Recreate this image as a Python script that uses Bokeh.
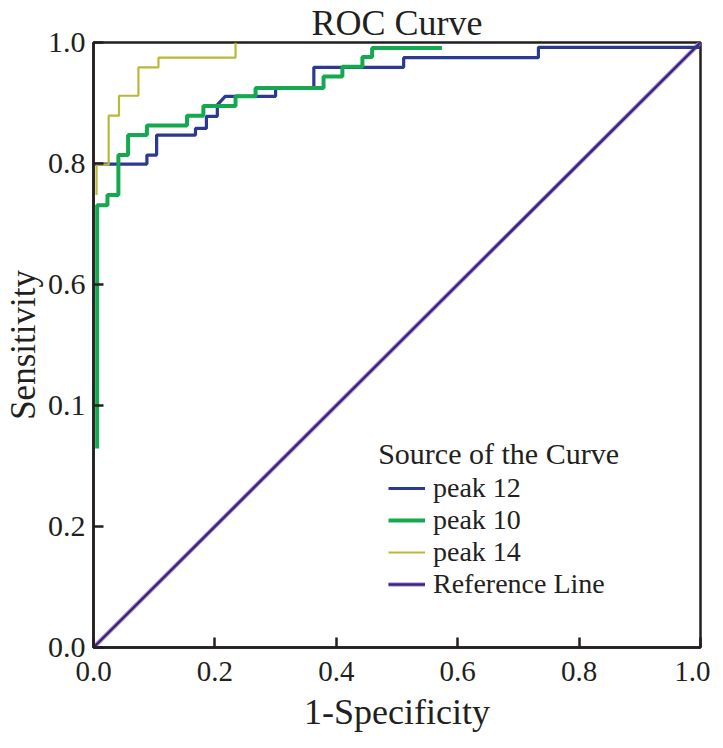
from bokeh.plotting import figure
from bokeh.models import (Range1d, FixedTicker, Legend, LegendItem, Label)
from bokeh.embed import file_html
from bokeh.resources import INLINE

# ---- data ----
peak12_x = [0.0, 0.088, 0.088, 0.104, 0.104, 0.168, 0.168, 0.186, 0.186, 0.204, 0.204,
            0.217, 0.300, 0.300, 0.363, 0.363, 0.511, 0.511, 0.733, 0.733, 1.0]
peak12_y = [0.799, 0.799, 0.814, 0.814, 0.847, 0.847, 0.858, 0.858, 0.878, 0.878, 0.897,
            0.911, 0.911, 0.924, 0.924, 0.959, 0.959, 0.975, 0.975, 0.992, 0.992]

peak10_x = [0.006, 0.006, 0.023, 0.023, 0.041, 0.041, 0.057, 0.057, 0.088, 0.088,
            0.154, 0.154, 0.181, 0.181, 0.234, 0.234, 0.267, 0.267, 0.379, 0.379,
            0.410, 0.410, 0.443, 0.443, 0.459, 0.459, 0.574]
peak10_y = [0.329, 0.731, 0.731, 0.748, 0.748, 0.814, 0.814, 0.847, 0.847, 0.863,
            0.863, 0.879, 0.879, 0.895, 0.895, 0.911, 0.911, 0.925, 0.925, 0.944,
            0.944, 0.960, 0.960, 0.976, 0.976, 0.991, 0.991]

peak14_x = [0.005, 0.005, 0.025, 0.025, 0.042, 0.042, 0.074, 0.074, 0.107, 0.107, 0.234, 0.234]
peak14_y = [0.748, 0.798, 0.798, 0.879, 0.879, 0.912, 0.912, 0.959, 0.959, 0.975, 0.975, 1.0]

ref_x = [0.0, 1.0]
ref_y = [0.0, 1.0]

tick_values = [0.0, 0.2, 0.4, 0.6, 0.8, 1.0]
x_tick_labels = ["0.0", "0.2", "0.4", "0.6", "0.8", "1.0"]
y_tick_labels = ["0.0", "0.2", "0.1", "0.6", "0.8", "1.0"]

series_names = ["peak 12", "peak 10", "peak 14", "Reference Line"]

FONT = "Liberation Serif"
INK = "#231f20"

p = figure(frame_width=607, frame_height=605,
           min_border_left=92, min_border_right=10,
           min_border_top=36, min_border_bottom=95,
           x_range=Range1d(0, 1), y_range=Range1d(0, 1),
           output_backend="svg", toolbar_location=None,
           title="ROC Curve")

p.title.align = "center"
p.title.text_font = FONT
p.title.text_font_size = "36px"
p.title.text_font_style = "normal"
p.title.text_color = INK
p.title.standoff = 0

p.grid.visible = False
p.outline_line_color = INK
p.outline_line_width = 2.5
p.background_fill_color = "white"
p.border_fill_color = "white"

for ax, labels in ((p.xaxis[0], x_tick_labels), (p.yaxis[0], y_tick_labels)):
    ax.ticker = FixedTicker(ticks=tick_values)
    ax.major_label_overrides = {v: t for v, t in zip(tick_values, labels)}
    ax.major_tick_in = 10
    ax.major_tick_out = 0
    ax.minor_tick_line_color = None
    ax.major_tick_line_color = INK
    ax.major_tick_line_width = 2.5
    ax.axis_line_color = INK
    ax.axis_line_width = 2.5
    ax.major_label_text_font = FONT
    ax.major_label_text_font_size = "30px"
    ax.major_label_text_color = INK
    ax.axis_label_text_font = FONT
    ax.axis_label_text_font_style = "normal"
    ax.axis_label_text_color = INK

p.xaxis.axis_label = "1-Specificity"
p.yaxis.axis_label = "Sensitivity"
p.xaxis.major_label_text_font_size = "29px"
p.xaxis.axis_label_text_font_size = "36px"
p.yaxis.axis_label_text_font_size = "35px"
p.xaxis.major_label_standoff = 14
p.yaxis.major_label_standoff = 8
p.xaxis.axis_label_standoff = 8
p.yaxis.axis_label_standoff = 2

ref_halo = p.line(ref_x, ref_y, line_color="#c99ad0", line_width=4.5)
ref_line = p.line(ref_x, ref_y, line_color="#2e2a86", line_width=2.5)
r12 = p.line(peak12_x, peak12_y, line_color="#2b3990", line_width=3.2)
r10 = p.line(peak10_x, peak10_y, line_color="#14a84f", line_width=4)
r14 = p.line(peak14_x, peak14_y, line_color="#b9b83a", line_width=2.2)

legend = Legend(items=[
    LegendItem(label=series_names[0], renderers=[r12]),
    LegendItem(label=series_names[1], renderers=[r10]),
    LegendItem(label=series_names[2], renderers=[r14]),
    LegendItem(label=series_names[3], renderers=[ref_halo, ref_line]),
], location=(295, 47), orientation="vertical",
    border_line_color=None, background_fill_alpha=0,
    padding=0, margin=0, spacing=0,
    glyph_width=37, glyph_height=28, label_height=28, label_standoff=8,
    label_text_font=FONT, label_text_font_size="28px", label_text_color=INK)
p.add_layout(legend)

p.add_layout(Label(x=0.469, y=0.321, text="Source of the Curve",
                   text_font=FONT, text_font_size="30px", text_color=INK,
                   text_baseline="alphabetic"))

open("out.html", "w").write(file_html(p, INLINE))
